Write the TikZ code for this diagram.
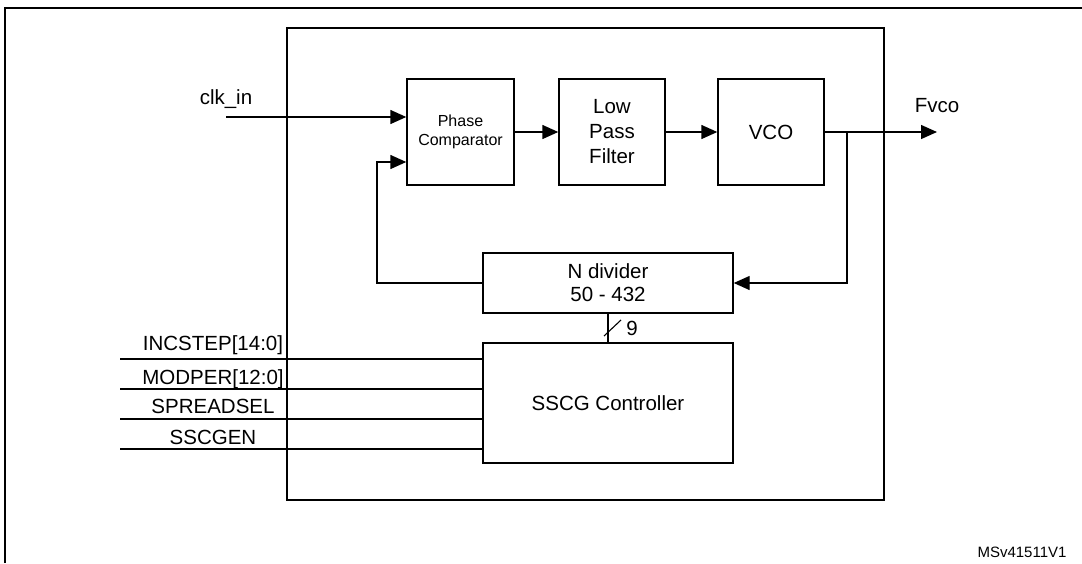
\documentclass[tikz,border=0pt]{standalone}
\usepackage{fontspec}
\setmainfont{Liberation Sans}
\usetikzlibrary{arrows.meta,calc}
\begin{document}
\begin{tikzpicture}[x=1pt,y=-1pt,
  blk/.style={draw,line width=1.4pt,inner sep=0pt,align=center,font=\fontsize{20.5}{25}\selectfont},
  wire/.style={line width=1.4pt},
  arr/.style={wire,-{Triangle[length=16pt,width=14pt]}},
  lbl/.style={font=\fontsize{20.5}{25}\selectfont,inner sep=0pt}]
\useasboundingbox (0,0) rectangle (1082,563);
% outer frame (cropped)
\draw[line width=2pt] (5,563) -- (5,8) -- (1082,8);
% inner box
\draw[wire] (287,28) rectangle (884,500);
% blocks
\node[blk,minimum width=107pt,minimum height=106pt,font=\fontsize{16}{19}\selectfont] (pc) at (460.5,132) {Phase\\Comparator};
\node[blk,minimum width=106pt,minimum height=106pt] (lpf) at (612,132) {Low\\Pass\\Filter};
\node[blk,minimum width=106pt,minimum height=106pt] (vco) at (771,132) {VCO};
\node[blk,minimum width=250pt,minimum height=60pt,font=\fontsize{20.5}{23}\selectfont] (nd) at (608,283) {N divider\\50 - 432};
\node[blk,minimum width=250pt,minimum height=120pt] (sscg) at (608,403) {SSCG Controller};
% clk_in
\coordinate (clkin) at (226,117);
\node[lbl,anchor=base] (clklbl) at (226,104) {clk\_in};
\draw[arr] (clkin) -- (clkin -| pc.west);
% forward path
\draw[arr] (pc.east) -- (lpf.west);
\draw[arr] (lpf.east) -- (vco.west);
\coordinate (fout) at (937,132);
\draw[arr] (vco.east) -- (fout);
\node[lbl,anchor=base] (fvco) at (937,112) {Fvco};
% feedback
\coordinate (tap) at (847,132);
\draw[arr] (tap) |- (nd.east);
\coordinate (fb) at (377,162);
\draw[arr] (nd.west) -| (fb) -- (fb -| pc.west);
% bus
\draw[wire] (nd.south) -- (sscg.north);
\coordinate (s1) at (604,336);
\coordinate (s2) at (621,320);
\draw[line width=1.1pt] (s1) -- (s2);
\node[lbl,anchor=center] (nine) at (632,328) {9};
% inputs
\foreach \y/\b/\t [count=\i] in {359/350/{INCSTEP[14:0]},389/384/{MODPER[12:0]},419/413/{SPREADSEL},449/444/{SSCGEN}}{
  \coordinate (in\i) at (120,\y);
  \draw[wire] (in\i) -- (in\i -| sscg.west);
  \node[lbl,anchor=base] (inl\i) at (213,\b) {\t};
}
\node[anchor=base,inner sep=0pt,font=\fontsize{15}{18}\selectfont] (id) at (1022,557) {MSv41511V1};
\end{tikzpicture}
\end{document}
